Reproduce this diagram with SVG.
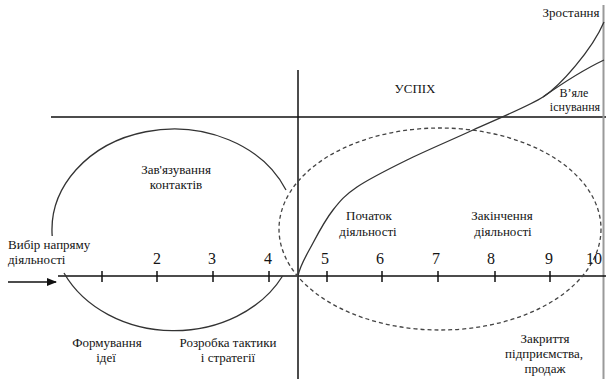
<svg xmlns="http://www.w3.org/2000/svg" width="606" height="379" viewBox="0 0 606 379" font-family="'Liberation Serif', 'DejaVu Serif', serif">
<defs>
<style>
text{font-family:'Liberation Serif','DejaVu Serif',serif}
.lbl{font-size:13px;fill:#141414;text-anchor:middle}
.num{font-size:16px;fill:#141414;text-anchor:middle}
.sm{font-size:12px}
.ax{stroke:#111;stroke-width:1.5;fill:none}
.crv{stroke:#333;stroke-width:1.3;fill:none}
.dash{stroke:#444;stroke-width:1.3;fill:none;stroke-dasharray:4 3}
.tick{stroke:#111;stroke-width:1.5}
</style>
<marker id="arr" viewBox="0 0 10 8" refX="9" refY="4" markerWidth="10" markerHeight="8" markerUnits="userSpaceOnUse" orient="auto">
<path d="M0,0 L10,4 L0,8 Z" fill="#111"/>
</marker>
</defs>
<rect width="606" height="379" fill="#fff"/>

<g id="frame">
<line class="ax" x1="51" y1="117" x2="606" y2="117"/>
<line class="ax" x1="298" y1="70" x2="298" y2="379"/>
<line x1="603.5" y1="5" x2="603.5" y2="379" stroke="#9a9a9a" stroke-width="2"/>
<line class="ax" x1="58" y1="276" x2="606" y2="276"/>
</g>

<g id="connectors">
<line class="ax" x1="8" y1="282" x2="56" y2="282" marker-end="url(#arr)"/>
<path class="crv" d="M298,276 C300,265 307.2,254 313,243 C318.8,232 325.7,219.3 333,210 C340.3,200.7 344.7,195.3 357,187 C369.3,178.7 387.7,169.5 407,160 C426.3,150.5 450.3,140.5 473,130 C494,120.5 531,105 543,97"/>
<path class="crv" d="M543,97 C560,86 592,50 604,22"/>
<path class="crv" d="M543,97 C560,85 585,69 604,60"/>
</g>

<g id="ellipse-left">
<path class="crv" d="M286,190 A122 101 0 0 0 52.2,236"/>
<path class="crv" d="M64,273 A122 101 0 0 0 282.6,276"/>
</g>

<g id="ellipse-right">
<ellipse class="dash" cx="440" cy="229" rx="161" ry="101"/>
</g>

<g id="ticks">
<line class="tick" x1="102" y1="271" x2="102" y2="282"/>
<line class="tick" x1="157" y1="271" x2="157" y2="282"/>
<line class="tick" x1="213" y1="271" x2="213" y2="282"/>
<line class="tick" x1="269" y1="271" x2="269" y2="282"/>
<line class="tick" x1="327" y1="271" x2="327" y2="282"/>
<line class="tick" x1="382" y1="271" x2="382" y2="282"/>
<line class="tick" x1="438" y1="271" x2="438" y2="282"/>
<line class="tick" x1="495" y1="271" x2="495" y2="282"/>
<line class="tick" x1="550" y1="271" x2="550" y2="282"/>
</g>

<g id="numbers">
<text class="num" x="157" y="264">2</text>
<text class="num" x="212" y="264">3</text>
<text class="num" x="268" y="264">4</text>
<text class="num" x="325" y="264">5</text>
<text class="num" x="380" y="264">6</text>
<text class="num" x="436" y="264">7</text>
<text class="num" x="491" y="264">8</text>
<text class="num" x="549" y="264">9</text>
<text class="num" x="594" y="264">10</text>
</g>

<g id="node-vybir">
<text class="lbl" style="text-anchor:start" x="8" y="249">Вибір напряму</text>
<text class="lbl" style="text-anchor:start" x="8" y="264">діяльності</text>
</g>
<g id="node-kontakty">
<text class="lbl" x="176" y="174">Зав'язування</text>
<text class="lbl" x="176" y="189">контактів</text>
</g>
<g id="node-ideia">
<text class="lbl" x="107" y="347">Формування</text>
<text class="lbl" x="106" y="362">ідеї</text>
</g>
<g id="node-taktyka">
<text class="lbl" x="228" y="347">Розробка тактики</text>
<text class="lbl" x="228" y="362">і стратегії</text>
</g>
<g id="node-pochatok">
<text class="lbl" x="369" y="220">Початок</text>
<text class="lbl" x="368" y="236">діяльності</text>
</g>
<g id="node-zakinchennia">
<text class="lbl" x="502" y="220">Закінчення</text>
<text class="lbl" x="503" y="236">діяльності</text>
</g>
<g id="node-zakryttia">
<text class="lbl" x="545" y="343">Закриття</text>
<text class="lbl" x="544" y="358">підприємства,</text>
<text class="lbl" x="545" y="373">продаж</text>
</g>
<g id="node-uspikh">
<text class="lbl" x="415" y="93">УСПІХ</text>
</g>
<g id="node-zrostannia">
<text class="lbl" x="571" y="17">Зростання</text>
</g>
<g id="node-vyale">
<text class="lbl sm" x="574" y="97">В’яле</text>
<text class="lbl sm" x="575" y="111">існування</text>
</g>
</svg>
